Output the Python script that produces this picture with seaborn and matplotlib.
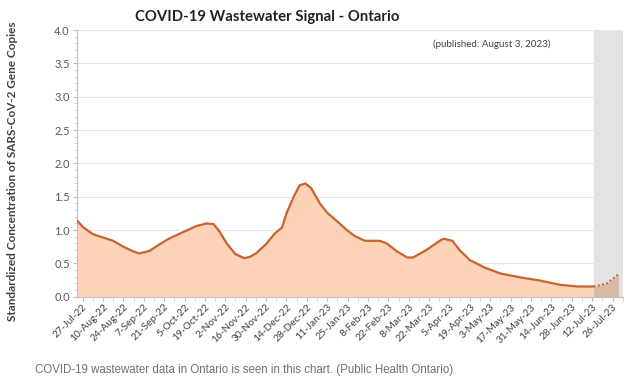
import pandas as pd
import matplotlib.pyplot as plt
import matplotlib.dates as mdates
import seaborn as sns

# values
dates = ["2022-07-23", "2022-07-27", "2022-08-03", "2022-08-10", "2022-08-17",
         "2022-08-24", "2022-08-31", "2022-09-04", "2022-09-11", "2022-09-18",
         "2022-09-25", "2022-10-04", "2022-10-13", "2022-10-20", "2022-10-25",
         "2022-10-29", "2022-11-03", "2022-11-09", "2022-11-15", "2022-11-19",
         "2022-11-23", "2022-11-30", "2022-12-06", "2022-12-11", "2022-12-14",
         "2022-12-19", "2022-12-23", "2022-12-27", "2022-12-31", "2023-01-06",
         "2023-01-11", "2023-01-18", "2023-01-24", "2023-01-30", "2023-02-06",
         "2023-02-16", "2023-02-21", "2023-02-28", "2023-03-07", "2023-03-11",
         "2023-03-20", "2023-03-30", "2023-04-01", "2023-04-07", "2023-04-12",
         "2023-04-19", "2023-04-29", "2023-05-10", "2023-05-24", "2023-06-06",
         "2023-06-20", "2023-07-02", "2023-07-13"]
signal = [1.15, 1.05, 0.94, 0.89, 0.84,
          0.75, 0.68, 0.65, 0.69, 0.79,
          0.88, 0.97, 1.06, 1.10, 1.09,
          0.98, 0.80, 0.64, 0.58, 0.60,
          0.65, 0.79, 0.95, 1.04, 1.25,
          1.50, 1.67, 1.70, 1.63, 1.40,
          1.26, 1.13, 1.01, 0.91, 0.84,
          0.84, 0.80, 0.68, 0.59, 0.59,
          0.70, 0.85, 0.87, 0.84, 0.70,
          0.55, 0.44, 0.35, 0.29, 0.245,
          0.18, 0.155, 0.155]
# provisional (dotted) part
prov_dates = ["2023-07-13", "2023-07-22", "2023-07-30"]
prov_signal = [0.155, 0.20, 0.34]

df = pd.DataFrame({"date": pd.to_datetime(dates), "signal": signal})
prov = pd.DataFrame({"date": pd.to_datetime(prov_dates), "signal": prov_signal})

line_col = "#C8622F"
fill_col = "#FCD3B6"
txt_col = "#404040"

sns.set_style("white")
plt.rcParams['font.family'] = ['Lato', 'DejaVu Sans']

fig = plt.figure(figsize=(6.4, 3.85), dpi=100)
ax = fig.add_axes([0.120, 0.229, 0.853, 0.693])

ax.axvspan(pd.Timestamp("2023-07-13"), pd.Timestamp("2023-08-02"), color="#E3E3E3", zorder=0)
ax.fill_between(df["date"], df["signal"], color=fill_col, lw=0, zorder=1)
ax.fill_between(prov["date"], prov["signal"], color="#D9B9A6", lw=0, zorder=1)
sns.lineplot(data=df, x="date", y="signal", color=line_col, lw=1.6, ax=ax, zorder=3)
sns.lineplot(data=prov, x="date", y="signal", color=line_col, lw=1.4, ls=(0, (1, 1.2)), ax=ax, zorder=3)

ax.set_ylim(0, 4)
ax.set_xlim(pd.Timestamp("2022-07-23"), pd.Timestamp("2023-08-02"))
ax.set_yticks([0, 0.5, 1, 1.5, 2, 2.5, 3, 3.5, 4])
ax.set_yticklabels(["0.0", "0.5", "1.0", "1.5", "2.0", "2.5", "3.0", "3.5", "4.0"])
ax.yaxis.set_minor_locator(plt.MultipleLocator(0.1))
ax.grid(axis="y", color="#E6E6E6", lw=0.8, zorder=0)
ax.set_axisbelow(True)

ticks = pd.date_range("2022-07-27", "2023-07-26", freq="14D")
ax.set_xticks(ticks)
ax.set_xticklabels([f"{d.day}-{d.strftime('%b-%y')}" for d in ticks],
                   rotation=45, ha="right", rotation_mode="anchor",
                   fontsize=7.3, color=txt_col)
ax.xaxis.set_minor_locator(plt.FixedLocator(mdates.date2num(pd.date_range("2022-07-20", "2023-08-02", freq="7D"))))

ax.tick_params(axis="y", which="major", left=True, length=3, color="#BFBFBF", labelsize=8, labelcolor="#595959", pad=2)
ax.tick_params(axis="y", which="minor", left=True, length=2, color="#D0D0D0")
ax.tick_params(axis="x", which="major", bottom=True, length=3, color="#BFBFBF", pad=1)
ax.tick_params(axis="x", which="minor", bottom=True, length=3, color="#D0D0D0")

for s in ["top", "right"]:
    ax.spines[s].set_visible(False)
for s in ["left", "bottom"]:
    ax.spines[s].set_color("#BFBFBF")
    ax.spines[s].set_linewidth(0.8)

ax.set_xlabel("")
ax.set_ylabel("Standardized Concentration of SARS-CoV-2 Gene Copies",
              fontsize=8.5, fontweight="bold", color=txt_col)
ax.yaxis.set_label_coords(-0.108, 0.47)

fig.text(0.418, 0.957, "COVID-19 Wastewater Signal - Ontario", ha="center", va="center",
         fontsize=10.7, fontweight="bold", color="#222222")
ax.text(0.76, 0.965, "(published: August 3, 2023)", transform=ax.transAxes,
        ha="center", va="top", fontsize=7, color=txt_col)
fig.text(0.055, 0.04, "COVID-19 wastewater data in Ontario is seen in this chart. (Public Health Ontario)",
         ha="left", va="center", fontsize=8.3, color="#707070", family="Liberation Sans")

fig.savefig("out.png", dpi=100)
